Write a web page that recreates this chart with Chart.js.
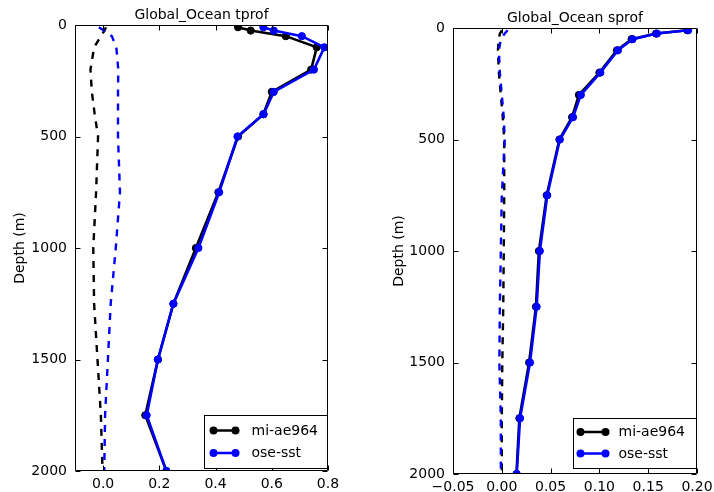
<!DOCTYPE html>
<html><head><meta charset="utf-8">
<script src="https://cdn.jsdelivr.net/npm/chart.js@4"></script>
<style>
html,body{margin:0;padding:0;background:#fff;}
#wrap{position:relative;width:714px;height:492px;overflow:hidden;background:#fff;}
.box{position:absolute;top:0;height:492px;}
</style></head><body>
<div id="wrap">
<div class="box" style="left:0;width:340px"><canvas id="c1" width="340" height="492"></canvas></div>
<div class="box" style="left:370px;width:344px"><canvas id="c2" width="344" height="492"></canvas></div>
</div>
<script>
// ---- data ----
const depths = [10, 25, 50, 100, 200, 300, 400, 500, 750, 1000, 1250, 1500, 1750, 2000];
const seriesNames = ['mi-ae964', 'ose-sst'];

// temperature profile (tprof)
const tMiAe964     = [0.48, 0.525, 0.65, 0.76, 0.74, 0.60, 0.57, 0.48, 0.41, 0.33, 0.25, 0.195, 0.15, 0.225];
const tOseSst      = [0.57, 0.607, 0.707, 0.787, 0.75, 0.607, 0.571, 0.478, 0.413, 0.339, 0.25, 0.195, 0.155, 0.225];
const tMiAe964Bias = [0.01, 0.005, -0.008, -0.032, -0.045, -0.04, -0.03, -0.018, -0.025, -0.035, -0.032, -0.02, -0.008, -0.002];
const tOseSstBias  = [-0.015, 0.002, 0.031, 0.047, 0.054, 0.053, 0.053, 0.053, 0.06, 0.045, 0.027, 0.017, 0.007, 0.004];

// salinity profile (sprof)
const sMiAe964     = [0.19, 0.158, 0.133, 0.118, 0.10, 0.079, 0.072, 0.059, 0.046, 0.038, 0.035, 0.028, 0.018, 0.015];
const sOseSst      = [0.191, 0.159, 0.134, 0.119, 0.101, 0.081, 0.073, 0.0595, 0.0466, 0.039, 0.0357, 0.0289, 0.0187, 0.0153];
const sMiAe964Bias = [0.0, -0.002, -0.003, -0.004, -0.003, -0.001, 0.001, 0.0025, 0.0025, 0.002, 0.0015, 0.0005, 0.0, 0.0];
const sOseSstBias  = [0.006, 0.003, -0.001, -0.003, -0.002, 0.0, 0.002, 0.003, 0.0, -0.001, -0.002, -0.0025, -0.001, -0.001];

// ticks
const yTicks = [0, 500, 1000, 1500, 2000];
const yTickLabels = ['0', '500', '1000', '1500', '2000'];
const tXTicks = [0.0, 0.2, 0.4, 0.6, 0.8];
const tXTickLabels = ['0.0', '0.2', '0.4', '0.6', '0.8'];
const sXTicks = [-0.05, 0.0, 0.05, 0.10, 0.15, 0.20];
const sXTickLabels = ['\u22120.05', '0.00', '0.05', '0.10', '0.15', '0.20'];

// ---- chart ----
Chart.defaults.font.family = "'DejaVu Sans', sans-serif";
Chart.defaults.font.size = 14;
Chart.defaults.color = '#000';

const BLUE = '#0000ff', BLACK = '#000000';

function pts(xs) { return xs.map((v, i) => ({x: v, y: depths[i]})); }

const framePlugin = {
  id: 'frame',
  afterDraw(chart) {
    const o = chart.options.plugins.frame;
    const {ctx, chartArea: a, scales: {x, y}} = chart;
    ctx.save();
    ctx.strokeStyle = '#000';
    ctx.lineWidth = 1;
    const L = Math.round(a.left) + 0.5, R = Math.round(a.right) - 0.5;
    const T = Math.round(a.top) + 0.5, B = Math.round(a.bottom) - 0.5;
    ctx.beginPath();
    ctx.rect(L, T, R - L, B - T);
    const tl = 5;
    x.ticks.forEach(t => {
      const px = Math.round(x.getPixelForValue(t.value)) + 0.5;
      ctx.moveTo(px, T); ctx.lineTo(px, T + tl);
      ctx.moveTo(px, B); ctx.lineTo(px, B - tl);
    });
    y.ticks.forEach(t => {
      const py = Math.round(y.getPixelForValue(t.value)) + 0.5;
      ctx.moveTo(L, py); ctx.lineTo(L + tl, py);
      ctx.moveTo(R, py); ctx.lineTo(R - tl, py);
    });
    ctx.stroke();

    // legend
    const lg = o.legend;
    const bx = Math.round(a.right - lg.right - lg.w) + 0.5;
    const by = Math.round(a.bottom - lg.bottom - lg.h) + 0.5;
    ctx.fillStyle = '#fff';
    ctx.fillRect(bx, by, lg.w, lg.h);
    ctx.strokeStyle = '#000';
    ctx.strokeRect(bx, by, lg.w, lg.h);
    const entries = [[seriesNames[0], BLACK], [seriesNames[1], BLUE]];
    entries.forEach((e, i) => {
      const yy = by + lg.rows[i];
      const x0 = bx + lg.lx0, x1 = bx + lg.lx1;
      ctx.strokeStyle = e[1];
      ctx.lineWidth = 2.5;
      ctx.beginPath(); ctx.moveTo(x0, yy); ctx.lineTo(x1, yy); ctx.stroke();
      ctx.fillStyle = e[1];
      [x0, x1].forEach(xx => { ctx.beginPath(); ctx.arc(xx, yy, 4, 0, Math.PI * 2); ctx.fill(); });
      ctx.fillStyle = '#000';
      ctx.font = "14px 'DejaVu Sans', sans-serif";
      ctx.textBaseline = 'middle';
      ctx.textAlign = 'left';
      ctx.fillText(e[0], bx + lg.tx, yy + 0.5);
    });
    ctx.restore();
  }
};

function makeChart(id, c) {
  const solid = (label, data, color, order) => ({
    label, data: pts(data), showLine: true, borderColor: color, backgroundColor: color,
    borderWidth: 2.6, pointRadius: 3.6, pointBorderWidth: 1, pointBorderColor: color,
    pointBackgroundColor: color, tension: 0, order
  });
  const dashed = (label, data, color, order) => ({
    label, data: pts(data), showLine: true, borderColor: color, backgroundColor: color,
    borderWidth: 2.4, borderDash: [7, 7], pointRadius: 0, tension: 0, order
  });
  return new Chart(document.getElementById(id), {
    type: 'scatter',
    data: {
      datasets: [
        solid(seriesNames[1], c.blue, BLUE, 0),
        solid(seriesNames[0], c.black, BLACK, 1),
        dashed(seriesNames[1] + ' bias', c.blueBias, BLUE, 2),
        dashed(seriesNames[0] + ' bias', c.blackBias, BLACK, 3)
      ]
    },
    options: {
      responsive: false,
      devicePixelRatio: 1,
      animation: false,
      events: [],
      layout: {padding: {left: 0, right: c.padRight, top: 0, bottom: 0}},
      plugins: {
        legend: {display: false},
        tooltip: {enabled: false},
        title: {
          display: true, text: c.title, fullSize: false,
          font: {size: 14, weight: 'normal'}, color: '#000',
          padding: {top: c.titleTop, bottom: c.titleBottom}
        },
        frame: {legend: c.legend}
      },
      scales: {
        x: {
          type: 'linear', min: c.xMin, max: c.xMax,
          grid: {display: false, drawTicks: false},
          border: {display: false},
          afterBuildTicks: s => { s.ticks = c.xTicks.map(v => ({value: v})); },
          afterFit: s => { s.height = c.xH; s.paddingLeft = 0; s.paddingRight = 0; },
          ticks: {
            autoSkip: false, maxRotation: 0, minRotation: 0, padding: 5,
            callback: (v, i) => c.xLabels[i]
          }
        },
        y: {
          type: 'linear', min: 0, max: 2000, reverse: true,
          grid: {display: false, drawTicks: false},
          border: {display: false},
          afterBuildTicks: s => { s.ticks = yTicks.map(v => ({value: v})); },
          afterFit: s => { s.width = c.yW; s.paddingTop = 0; s.paddingBottom = 0; },
          ticks: {autoSkip: false, padding: 8, callback: (v, i) => yTickLabels[i]},
          title: {display: true, text: 'Depth (m)', font: {size: 14}, padding: {top: c.yTitlePad, bottom: 0}}
        }
      }
    },
    plugins: [framePlugin]
  });
}

makeChart('c1', {
  title: 'Global_Ocean tprof',
  black: tMiAe964, blue: tOseSst, blackBias: tMiAe964Bias, blueBias: tOseSstBias,
  xMin: -0.1, xMax: 0.8, xTicks: tXTicks, xLabels: tXTickLabels,
  padRight: 12, xH: 21, yW: 75, titleTop: 6.5, titleBottom: 1.7, yTitlePad: 11.6,
  legend: {w: 123, h: 53, right: 1, bottom: 3, rows: [15, 37.5], lx0: 9, lx1: 31, tx: 47}
});

makeChart('c2', {
  title: 'Global_Ocean sprof',
  black: sMiAe964, blue: sOseSst, blackBias: sMiAe964Bias, blueBias: sOseSstBias,
  xMin: -0.05, xMax: 0.20, xTicks: sXTicks, xLabels: sXTickLabels,
  padRight: 17, xH: 18, yW: 83, titleTop: 10, titleBottom: 1.2, yTitlePad: 20.6,
  legend: {w: 123, h: 50, right: 1, bottom: 6, rows: [13.5, 35], lx0: 7, lx1: 32, tx: 45}
});
</script>
</body></html>
